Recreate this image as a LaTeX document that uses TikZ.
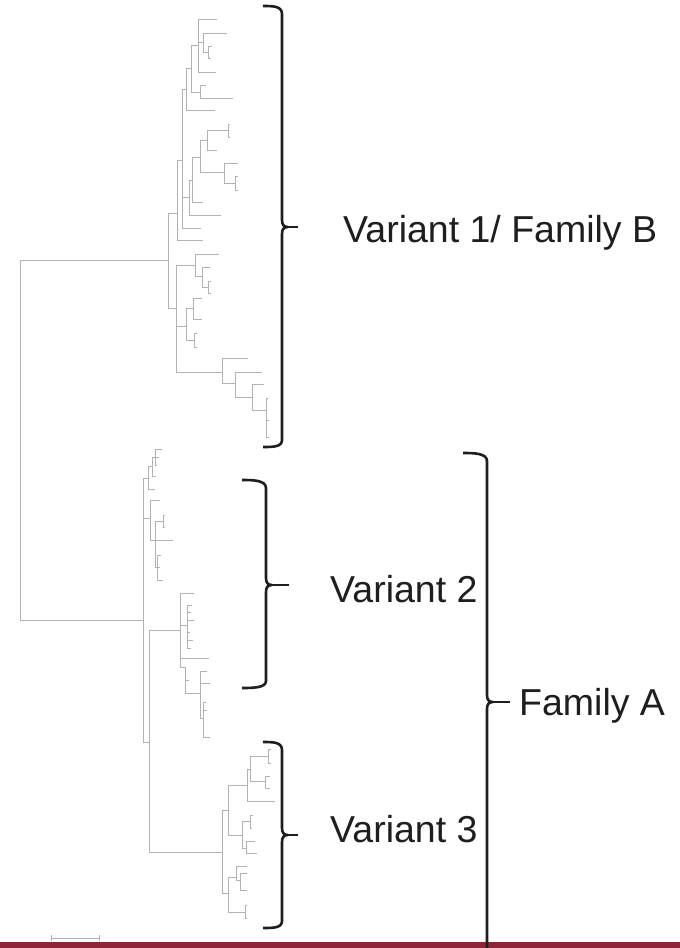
\documentclass[tikz,border=0pt]{standalone}
\usepackage{fontspec}
\setmainfont{Liberation Sans}
\definecolor{barred}{RGB}{142,36,56}
\definecolor{treegray}{RGB}{178,178,178}
\definecolor{inkblack}{RGB}{30,30,30}
\begin{document}
\begin{tikzpicture}[x=1pt,y=-1pt,
  br/.style={draw=treegray,line width=0.9pt},
  brk/.style={draw=inkblack,line width=2.6pt,line join=round},
  lab/.style={anchor=base west,inner sep=0pt,font=\fontsize{37.5}{40}\selectfont,text=inkblack},
  sbar/.style={draw=treegray,line width=0.8pt}]
\useasboundingbox[fill=white] (0,0) rectangle (680,948);

% ---------- bottom bar ----------
\fill[barred] (0,942) rectangle (680,948);

% ---------- root ----------
\coordinate (R) at (20,440);
\coordinate (B) at (168,260);
\coordinate (A) at (143,620);

% ---------- Family B, upper part ----------
\coordinate (g1c) at (208,52); \coordinate (l1) at (212,46); \coordinate (l2) at (211,58);
\coordinate (g1b) at (203,42); \coordinate (l3) at (227,33);
\coordinate (g1) at (198,45); \coordinate (l4) at (217,19); \coordinate (l5) at (216,72);
\coordinate (g2) at (200,92); \coordinate (l6) at (206,85); \coordinate (l7) at (233,98);
\coordinate (g3) at (191,68);
\coordinate (g4) at (186,89); \coordinate (l8) at (215,110);
\coordinate (h2a) at (228,130); \coordinate (l9) at (230,124); \coordinate (l10) at (230,137);
\coordinate (h2) at (207,140); \coordinate (l11) at (217,150);
\coordinate (h1b) at (235,183); \coordinate (l12) at (238,176); \coordinate (l13) at (238,190);
\coordinate (h1) at (224,172); \coordinate (l14) at (238,163);
\coordinate (h3) at (200,157);
\coordinate (h4) at (192,180); \coordinate (l15) at (203,202);
\coordinate (h5) at (189,197); \coordinate (l16) at (221,215);
\coordinate (h6) at (182,160); \coordinate (l17) at (201,228);
\coordinate (B1) at (177,213); \coordinate (l18) at (203,240);

% ---------- Family B, lower part ----------
\coordinate (k1) at (208,287); \coordinate (l19) at (211,281); \coordinate (l20) at (211,293);
\coordinate (k2) at (202,276); \coordinate (l21) at (210,267);
\coordinate (k3) at (195,265); \coordinate (l22) at (219,254);
\coordinate (m1) at (193,308); \coordinate (l23) at (202,298); \coordinate (l24) at (202,319);
\coordinate (m3) at (194,340); \coordinate (l25) at (197,333); \coordinate (l26) at (197,347);
\coordinate (m2) at (186,326);
\coordinate (n1) at (266,410); \coordinate (l27) at (268,398); \coordinate (l28) at (269,420); \coordinate (l29) at (269,437);
\coordinate (n2) at (252,397); \coordinate (l30) at (264,384);
\coordinate (n3) at (235,383); \coordinate (l31) at (262,372);
\coordinate (n4) at (222,372); \coordinate (l32) at (248,358);
\coordinate (B2) at (176,308);

% ---------- Family A, upper cluster ----------
\coordinate (u1) at (155,457); \coordinate (l33) at (162,449); \coordinate (l34) at (159,457); \coordinate (l35) at (157,465);
\coordinate (u2) at (152,466); \coordinate (l36) at (156,476);
\coordinate (u3) at (148,478); \coordinate (l37) at (155,489);
\coordinate (v1) at (163,521); \coordinate (l38) at (165,515); \coordinate (l39) at (165,527);
\coordinate (v3) at (157,567); \coordinate (l40) at (161,555); \coordinate (l41) at (160,567); \coordinate (l42) at (163,580);
\coordinate (v2) at (155,540); \coordinate (l43) at (173,540);
\coordinate (v4) at (150,518); \coordinate (l44) at (160,500);

% ---------- Variant 2 lower cluster ----------
\coordinate (w) at (180,630); \coordinate (l45) at (194,593); \coordinate (l46) at (209,658);
\coordinate (w1) at (187,625);
\coordinate (l47) at (192,605); \coordinate (l48) at (191,612); \coordinate (l49) at (194,620);
\coordinate (l50) at (190,632); \coordinate (l51) at (193,640); \coordinate (l52) at (191,648);
\coordinate (w2) at (185,667); \coordinate (l53) at (189,680);
\coordinate (w3) at (200,693); \coordinate (l54) at (207,671); \coordinate (l55) at (210,683);
\coordinate (w4) at (203,718); \coordinate (l56) at (206,702); \coordinate (l57) at (207,710); \coordinate (l58) at (210,737);
\coordinate (A2) at (149,742);

% ---------- Variant 3 ----------
\coordinate (V3) at (222,852);
\coordinate (x1) at (228,810);
\coordinate (x2) at (247,785);
\coordinate (x3) at (250,769);
\coordinate (x3a) at (268,756); \coordinate (l59) at (271,749); \coordinate (l60) at (271,763);
\coordinate (x3b) at (265,781); \coordinate (l61) at (270,776); \coordinate (l62) at (270,788);
\coordinate (l63) at (275,801);
\coordinate (x4) at (242,835);
\coordinate (x4a) at (250,821); \coordinate (l64) at (253,815); \coordinate (l65) at (252,828);
\coordinate (x4b) at (246,848); \coordinate (l66) at (255,841); \coordinate (l67) at (257,853);
\coordinate (x5) at (228,893);
\coordinate (x6) at (236,877); \coordinate (l68) at (247,866);
\coordinate (x6a) at (240,880); \coordinate (l69) at (247,873); \coordinate (l70) at (247,890);
\coordinate (x7) at (245,912); \coordinate (l71) at (247,905); \coordinate (l72) at (247,918);

% ---------- tree edges ----------
\draw[br] (R) |- (B) (R) |- (A);
\draw[br]
 (g1c) |- (l1) (g1c) |- (l2)
 (g1b) |- (l3) (g1b) |- (g1c)
 (g1) |- (l4) (g1) |- (g1b) (g1) |- (l5)
 (g2) |- (l6) (g2) |- (l7)
 (g3) |- (g1) (g3) |- (g2)
 (g4) |- (g3) (g4) |- (l8)
 (h2a) |- (l9) (h2a) |- (l10)
 (h2) |- (h2a) (h2) |- (l11)
 (h1b) |- (l12) (h1b) |- (l13)
 (h1) |- (l14) (h1) |- (h1b)
 (h3) |- (h2) (h3) |- (h1)
 (h4) |- (h3) (h4) |- (l15)
 (h5) |- (h4) (h5) |- (l16)
 (h6) |- (g4) (h6) |- (h5) (h6) |- (l17)
 (B1) |- (h6) (B1) |- (l18);
\draw[br]
 (k1) |- (l19) (k1) |- (l20)
 (k2) |- (l21) (k2) |- (k1)
 (k3) |- (l22) (k3) |- (k2)
 (m1) |- (l23) (m1) |- (l24)
 (m3) |- (l25) (m3) |- (l26)
 (m2) |- (m1) (m2) |- (m3)
 (n1) |- (l27) (n1) |- (l28) (n1) |- (l29)
 (n2) |- (l30) (n2) |- (n1)
 (n3) |- (l31) (n3) |- (n2)
 (n4) |- (l32) (n4) |- (n3)
 (B2) |- (k3) (B2) |- (m2) (B2) |- (n4)
 (B) |- (B1) (B) |- (B2);
\draw[br]
 (u1) |- (l33) (u1) |- (l34) (u1) |- (l35)
 (u2) |- (u1) (u2) |- (l36)
 (u3) |- (u2) (u3) |- (l37)
 (v1) |- (l38) (v1) |- (l39)
 (v3) |- (l40) (v3) |- (l41) (v3) |- (l42)
 (v2) |- (v1) (v2) |- (l43) (v2) |- (v3)
 (v4) |- (l44) (v4) |- (v2);
\draw[br]
 (w1) |- (l47) (w1) |- (l48) (w1) |- (l49) (w1) |- (l50) (w1) |- (l51) (w1) |- (l52)
 (w4) |- (l56) (w4) |- (l57) (w4) |- (l58)
 (w3) |- (l54) (w3) |- (l55) (w3) |- (w4)
 (w2) |- (l53) (w2) |- (w3)
 (w) |- (l45) (w) |- (w1) (w) |- (l46) (w) |- (w2);
\draw[br]
 (x3a) |- (l59) (x3a) |- (l60)
 (x3b) |- (l61) (x3b) |- (l62)
 (x3) |- (x3a) (x3) |- (x3b)
 (x2) |- (x3) (x2) |- (l63)
 (x4a) |- (l64) (x4a) |- (l65)
 (x4b) |- (l66) (x4b) |- (l67)
 (x4) |- (x4a) (x4) |- (x4b)
 (x1) |- (x2) (x1) |- (x4)
 (x6a) |- (l69) (x6a) |- (l70)
 (x6) |- (l68) (x6) |- (x6a)
 (x7) |- (l71) (x7) |- (l72)
 (x5) |- (x6) (x5) |- (x7)
 (V3) |- (x1) (V3) |- (x5)
 (A2) |- (w) (A2) |- (V3)
 (A) |- (u3) (A) |- (v4) (A) |- (A2);

% ---------- scale bar ----------
\coordinate (sb1) at (51,938); \coordinate (sb2) at (99,938);
\draw[sbar] (sb1) -- (sb2);
\draw[sbar] ([yshift=3pt]sb1) -- ([yshift=-3pt]sb1);
\draw[sbar] ([yshift=3pt]sb2) -- ([yshift=-3pt]sb2);

% ---------- brackets ----------
% Variant 1 / Family B
\draw[brk] (263,6) .. controls (273,6) and (282,6) .. (282,14) -- (282,220)
  .. controls (282,225) and (284,227) .. (288,227)
  .. controls (284,227) and (282,229) .. (282,234) -- (282,440)
  .. controls (282,447) and (273,447) .. (263,447);
\draw[brk] (286,227) -- (298,227);
% Variant 2
\draw[brk] (242,480) .. controls (252,480) and (266,480) .. (266,488) -- (266,578)
  .. controls (266,583) and (268,585) .. (272,585)
  .. controls (268,585) and (266,587) .. (266,592) -- (266,681)
  .. controls (266,688) and (252,688) .. (242,688);
\draw[brk] (270,585) -- (289,585);
% Variant 3
\draw[brk] (263,742) .. controls (273,742) and (282,742) .. (282,750) -- (282,828)
  .. controls (282,833) and (284,835) .. (288,835)
  .. controls (284,835) and (282,837) .. (282,842) -- (282,921)
  .. controls (282,928) and (273,928) .. (263,928);
\draw[brk] (286,835) -- (298,835);
% Family A
\draw[brk] (463,453) .. controls (473,453) and (487,453) .. (487,461) -- (487,695)
  .. controls (487,700) and (489,702) .. (493,702)
  .. controls (489,702) and (487,704) .. (487,709) -- (487,948);
\draw[brk] (491,702) -- (510,702);

% ---------- labels ----------
\node[lab] (tB) at (343,242) {Variant 1/ Family B};
\node[lab] (t2) at (330,602) {Variant 2};
\node[lab] (t3) at (330,842) {Variant 3};
\node[lab] (tA) at (519,715) {Family A};
\end{tikzpicture}
\end{document}
